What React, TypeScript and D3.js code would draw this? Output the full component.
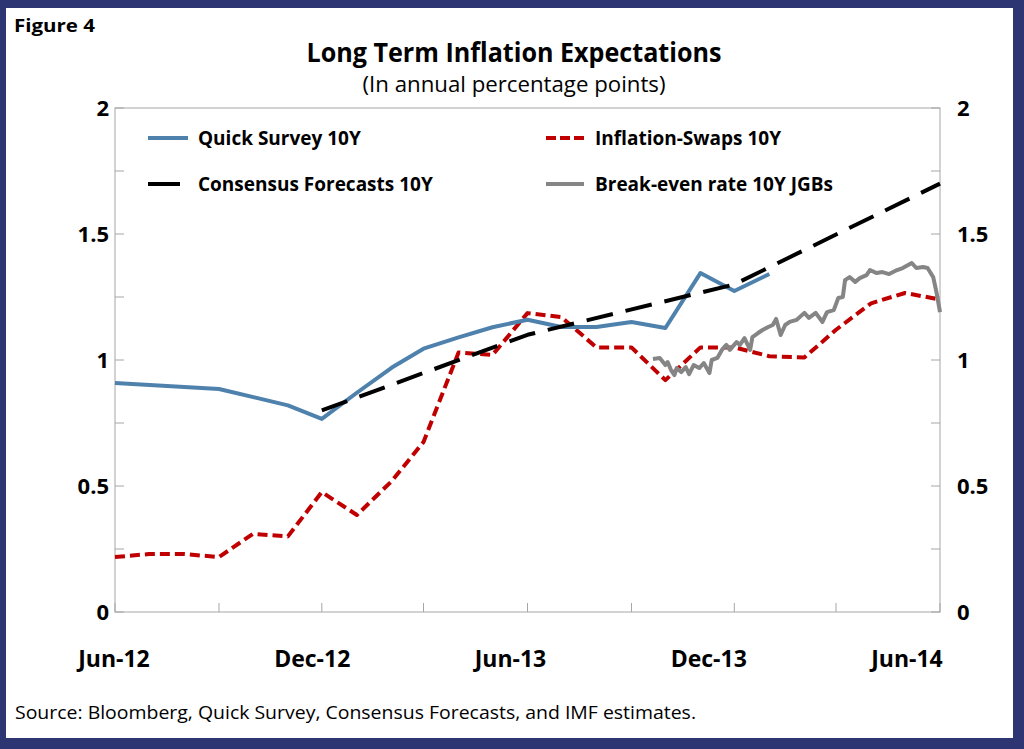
import { useEffect, useRef } from 'react'
import * as d3 from 'd3'

const xLabels = ['Jun-12', 'Dec-12', 'Jun-13', 'Dec-13', 'Jun-14']
const yTicks = [0, 0.5, 1, 1.5, 2]
const yMinorTicks = [0.25, 0.75, 1.25, 1.75]

// Quick Survey 10Y
const quickMonths = ['2012-06', '2012-09', '2012-11', '2012-12', '2013-01', '2013-02', '2013-03', '2013-04', '2013-05', '2013-06',
  '2013-07', '2013-08', '2013-09', '2013-10', '2013-11', '2013-12', '2014-01']
const quickValues = [0.909, 0.885, 0.82, 0.766, 0.87, 0.97, 1.045, 1.09, 1.13, 1.16,
  1.131, 1.131, 1.151, 1.127, 1.345, 1.274, 1.341]

// Inflation-Swaps 10Y
const swapMonths = ['2012-06', '2012-07', '2012-08', '2012-09', '2012-10', '2012-11', '2012-12',
  '2013-01', '2013-02', '2013-03', '2013-04', '2013-05', '2013-06', '2013-07', '2013-08', '2013-09', '2013-10', '2013-11', '2013-12',
  '2014-01', '2014-02', '2014-03', '2014-04', '2014-05', '2014-06']
const swapValues = [0.218, 0.23, 0.23, 0.218, 0.31, 0.3, 0.476,
  0.385, 0.52, 0.675, 1.03, 1.02, 1.186, 1.17, 1.05, 1.05, 0.92, 1.05, 1.05,
  1.015, 1.01, 1.12, 1.225, 1.266, 1.24]

// Consensus Forecasts 10Y
const consensusMonths = ['2012-12', '2013-06', '2013-12', '2014-06']
const consensusValues = [0.8, 1.1, 1.3, 1.7]

// Break-even rate 10Y JGBs
const breakevenDates = ['2013-09-20', '2013-09-26', '2013-10-01', '2013-10-03', '2013-10-06', '2013-10-09', '2013-10-11', '2013-10-15', '2013-10-19', '2013-10-22',
  '2013-10-26', '2013-10-31', '2013-11-04', '2013-11-09', '2013-11-11', '2013-11-16', '2013-11-20', '2013-11-24', '2013-11-27', '2013-12-03',
  '2013-12-06', '2013-12-10', '2013-12-15', '2013-12-17', '2013-12-22', '2013-12-26', '2013-12-31', '2014-01-04', '2014-01-07', '2014-01-11',
  '2014-01-15', '2014-01-19', '2014-01-25', '2014-02-01', '2014-02-05', '2014-02-11', '2014-02-17', '2014-02-21', '2014-02-27', '2014-03-03',
  '2014-03-07', '2014-03-09', '2014-03-13', '2014-03-18', '2014-03-22', '2014-03-28', '2014-03-31', '2014-04-06', '2014-04-11', '2014-04-17',
  '2014-04-24', '2014-04-29', '2014-05-07', '2014-05-11', '2014-05-17', '2014-05-21', '2014-05-26', '2014-05-29', '2014-06-01']
const breakevenValues = [1.004, 1.008, 0.98, 0.992, 0.96, 0.94, 0.968, 0.952, 0.972, 0.944,
  0.98, 0.968, 0.988, 0.948, 1.0, 1.008, 1.04, 1.06, 1.04, 1.071,
  1.06, 1.087, 1.04, 1.091, 1.107, 1.119, 1.131, 1.139, 1.163, 1.099,
  1.139, 1.151, 1.159, 1.187, 1.167, 1.187, 1.151, 1.19, 1.198, 1.246,
  1.25, 1.317, 1.329, 1.31, 1.325, 1.337, 1.357, 1.345, 1.349, 1.341,
  1.357, 1.365, 1.385, 1.365, 1.369, 1.365, 1.329, 1.266, 1.19]

const FONT = "'Open Sans', sans-serif"
const NAVY = '#2e3573'
const BLUE = '#4f81ad'
const RED = '#c00000'
const GRAY = '#858585'

const App = () => {
  const svgRef = useRef<SVGSVGElement>(null)

  useEffect(() => {
    const svg = d3.select(svgRef.current)
    svg.selectAll('*').remove()

    const left = 115, right = 940, top = 108, bottom = 612
    const parseMonth = d3.timeParse('%Y-%m')
    const parseDay = d3.timeParse('%Y-%m-%d')

    const x = d3.scaleTime()
      .domain([parseMonth('2012-06')!, parseMonth('2014-06')!])
      .range([left, right])
    const y = d3.scaleLinear().domain([0, 2]).range([bottom, top])
    // category labels sit on their own evenly spaced band
    const xLab = d3.scalePoint<string>().domain(xLabels).range([114, 907])

    // frame
    svg.append('rect').attr('width', 1024).attr('height', 749).attr('fill', NAVY)
    svg.append('rect').attr('x', 6).attr('y', 8).attr('width', 1007).attr('height', 730).attr('fill', '#fff')

    svg.append('text').attr('x', 14).attr('y', 32)
      .attr('font-family', FONT).attr('font-weight', 700).attr('font-size', 17)
      .attr('textLength', 81).attr('lengthAdjust', 'spacingAndGlyphs')
      .text('Figure 4')

    svg.append('text').attr('x', 514).attr('y', 62).attr('text-anchor', 'middle')
      .attr('font-family', FONT).attr('font-weight', 700).attr('font-size', 26)
      .attr('textLength', 415).attr('lengthAdjust', 'spacingAndGlyphs')
      .text('Long Term Inflation Expectations')
    svg.append('text').attr('x', 514).attr('y', 92).attr('text-anchor', 'middle')
      .attr('font-family', FONT).attr('font-size', 21)
      .attr('textLength', 303).attr('lengthAdjust', 'spacingAndGlyphs')
      .text('(In annual percentage points)')

    // plot box
    svg.append('rect').attr('x', left).attr('y', top)
      .attr('width', right - left).attr('height', bottom - top)
      .attr('fill', 'none').attr('stroke', '#a6a6a6').attr('stroke-width', 1)

    const tickColor = '#a6a6a6'
    const allY = [...yTicks, ...yMinorTicks]
    svg.append('g').selectAll('line').data(allY).join('line')
      .attr('x1', left).attr('x2', left + 9)
      .attr('y1', d => y(d)).attr('y2', d => y(d))
      .attr('stroke', tickColor)
    svg.append('g').selectAll('line').data(allY).join('line')
      .attr('x1', right - 9).attr('x2', right)
      .attr('y1', d => y(d)).attr('y2', d => y(d))
      .attr('stroke', tickColor)

    const xTicks = d3.timeMonth.range(x.domain()[0], d3.timeMonth.offset(x.domain()[1], 1))
      .filter((_, i) => i % 3 === 0)
    svg.append('g').selectAll('line').data(xTicks).join('line')
      .attr('x1', d => x(d)).attr('x2', d => x(d))
      .attr('y1', bottom - 9).attr('y2', bottom)
      .attr('stroke', tickColor)

    const labelStyle = (sel: any) => sel
      .attr('font-family', FONT).attr('font-weight', 700).attr('font-size', 22).attr('fill', '#000')

    svg.append('g').selectAll('text').data(yTicks).join('text')
      .attr('x', 109).attr('y', d => y(d)).attr('dy', '0.36em').attr('text-anchor', 'end')
      .call(labelStyle).text(d => String(d))
    svg.append('g').selectAll('text').data(yTicks).join('text')
      .attr('x', 957).attr('y', d => y(d)).attr('dy', '0.36em')
      .call(labelStyle).text(d => String(d))
    svg.append('g').selectAll('text').data(xLabels).join('text')
      .attr('x', d => xLab(d)!).attr('y', 667).attr('text-anchor', 'middle')
      .call(labelStyle).attr('font-size', 23).text(d => d)

    const monthLine = d3.line<[string, number]>()
      .x(d => x(parseMonth(d[0])!))
      .y(d => y(d[1]))
    const dayLine = d3.line<[string, number]>()
      .x(d => x(parseDay(d[0])!))
      .y(d => y(d[1]))

    const series = [
      { d: monthLine(d3.zip(swapMonths, swapValues) as any), color: RED, dash: '10,5' },
      { d: dayLine(d3.zip(breakevenDates, breakevenValues) as any), color: GRAY, dash: null },
      { d: monthLine(d3.zip(quickMonths, quickValues) as any), color: BLUE, dash: null },
      { d: monthLine(d3.zip(consensusMonths, consensusValues) as any), color: '#000', dash: '27,13' },
    ]
    svg.append('g').selectAll('path').data(series).join('path')
      .attr('d', d => d.d)
      .attr('fill', 'none')
      .attr('stroke', d => d.color)
      .attr('stroke-width', 4)
      .attr('stroke-linejoin', 'round')
      .attr('stroke-dasharray', d => d.dash)

    // legend
    const legend = [
      { name: 'Quick Survey 10Y', color: BLUE, dash: null, x: 148, len: 40, row: 138 },
      { name: 'Consensus Forecasts 10Y', color: '#000', dash: null, x: 148, len: 32, row: 184 },
      { name: 'Inflation-Swaps 10Y', color: RED, dash: '10,4', x: 546, len: 38, row: 138 },
      { name: 'Break-even rate 10Y JGBs', color: GRAY, dash: null, x: 546, len: 38, row: 184 },
    ]
    const lg = svg.append('g').selectAll('g').data(legend).join('g')
    lg.append('line')
      .attr('x1', d => d.x).attr('x2', d => d.x + d.len)
      .attr('y1', d => d.row).attr('y2', d => d.row)
      .attr('stroke', d => d.color).attr('stroke-width', 4)
      .attr('stroke-dasharray', d => d.dash)
    lg.append('text')
      .attr('x', d => (d.x < 300 ? 198 : 595)).attr('y', d => d.row).attr('dy', '0.36em')
      .attr('font-family', FONT).attr('font-weight', 700).attr('font-size', 19)
      .text(d => d.name)

    svg.append('text').attr('x', 15).attr('y', 719)
      .attr('font-family', FONT).attr('font-size', 19)
      .attr('textLength', 681).attr('lengthAdjust', 'spacingAndGlyphs')
      .text('Source: Bloomberg, Quick Survey, Consensus Forecasts, and IMF estimates.')
  }, [])

  return (
    <svg ref={svgRef} width={1024} height={749}
      style={{ position: 'absolute', left: 0, top: 0, display: 'block' }} />
  )
}

export default App
